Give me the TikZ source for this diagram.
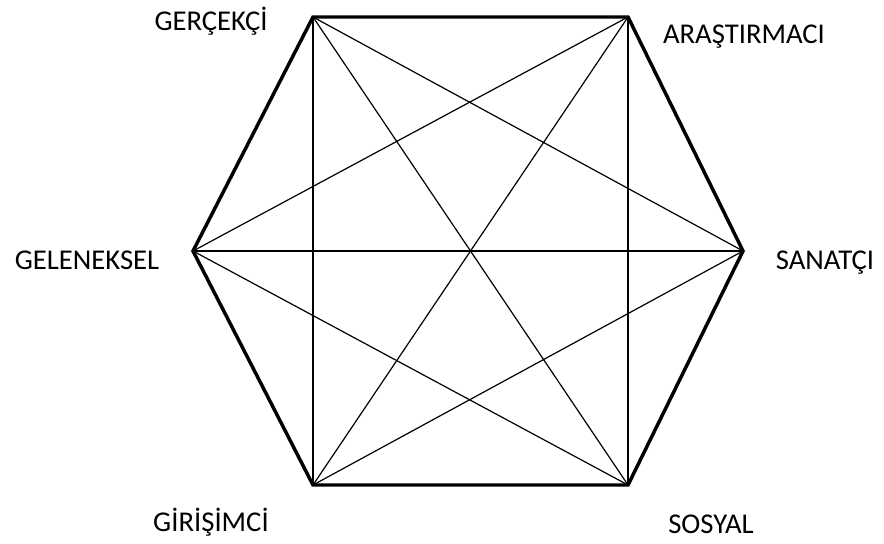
\documentclass[tikz,border=0pt]{standalone}
\usepackage{fontspec}
\setmainfont{Carlito}
\usetikzlibrary{positioning}
\tikzset{
  every picture/.style={draw=black, text=black},
  edge/.style={line width=2.6pt, line join=miter},
  diag/.style={line width=0.9pt},
  lbl/.style={font=\fontsize{21.5}{24}\selectfont, inner sep=0pt, anchor=base},
}

\begin{document}
\begin{tikzpicture}[x=0.75pt, y=-0.75pt]
\useasboundingbox (0,0) rectangle (884,543);
% Corners of the hexagon
\coordinate (G) at (313,17);
\coordinate (A) at (628,17);
\coordinate (S) at (743,251);
\coordinate (O) at (628,485);
\coordinate (I) at (313,485);
\coordinate (L) at (193,251);
% All diagonals
\foreach \p/\q in {G/S, G/O, G/I, A/O, A/I, A/L, S/I, S/L, O/L}
  \draw[diag] (\p) -- (\q);
% Outline
\draw[edge] (G) -- (A) -- (S) -- (O) -- (I) -- (L) -- cycle;
% Types
\node[lbl] (gercekci) at (211,30) {GERÇEKÇİ};
\node[lbl] (arastirmaci) at (744,43) {ARAŞTIRMACI};
\node[lbl] (geleneksel) at (87,269) {GELENEKSEL};
\node[lbl] (sanatci) at (825,269) {SANATÇI};
\node[lbl] (girisimci) at (211,531) {GİRİŞİMCİ};
\node[lbl] (sosyal) at (711,533) {SOSYAL};
\end{tikzpicture}
\end{document}
